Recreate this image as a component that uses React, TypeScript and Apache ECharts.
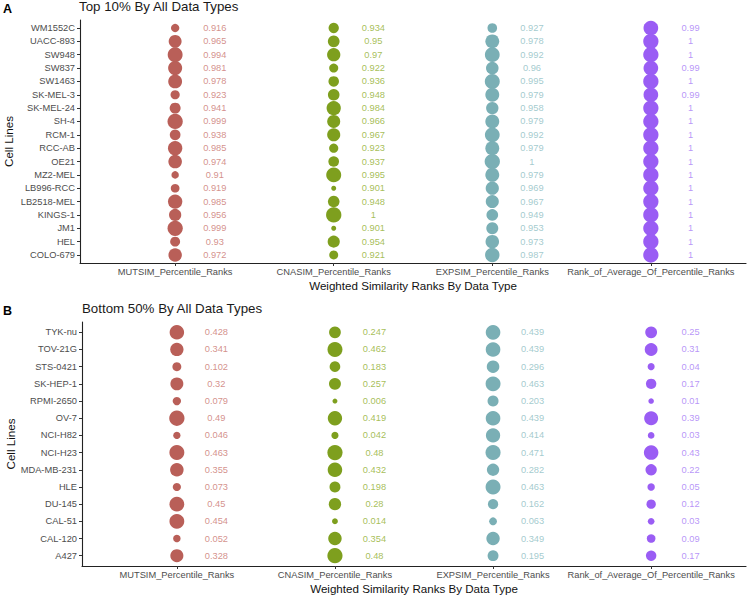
import React, { useEffect, useRef } from "react";
import * as echarts from "echarts";

const TYPES = [
  "MUTSIM_Percentile_Ranks",
  "CNASIM_Percentile_Ranks",
  "EXPSIM_Percentile_Ranks",
  "Rank_of_Average_Of_Percentile_Ranks",
];

// Panel A (listed top to bottom)
const topCells = ["WM1552C", "UACC-893", "SW948", "SW837", "SW1463", "SK-MEL-3", "SK-MEL-24", "SH-4", "RCM-1", "RCC-AB", "OE21", "MZ2-MEL", "LB996-RCC", "LB2518-MEL", "KINGS-1", "JM1", "HEL", "COLO-679"];
const topMut = [0.916, 0.965, 0.994, 0.981, 0.978, 0.923, 0.941, 0.999, 0.938, 0.985, 0.974, 0.91, 0.919, 0.985, 0.956, 0.999, 0.93, 0.972];
const topCna = [0.934, 0.95, 0.97, 0.922, 0.936, 0.948, 0.984, 0.966, 0.967, 0.923, 0.937, 0.995, 0.901, 0.948, 1, 0.901, 0.954, 0.921];
const topExp = [0.927, 0.978, 0.992, 0.96, 0.995, 0.979, 0.958, 0.979, 0.992, 0.979, 1, 0.979, 0.969, 0.967, 0.949, 0.953, 0.973, 0.987];
const topRank = [0.99, 1, 1, 0.99, 1, 0.99, 1, 1, 1, 1, 1, 1, 1, 1, 1, 1, 1, 1];

// Panel B (listed top to bottom)
const botCells = ["TYK-nu", "TOV-21G", "STS-0421", "SK-HEP-1", "RPMI-2650", "OV-7", "NCI-H82", "NCI-H23", "MDA-MB-231", "HLE", "DU-145", "CAL-51", "CAL-120", "A427"];
const botMut = [0.428, 0.341, 0.102, 0.32, 0.079, 0.49, 0.046, 0.463, 0.355, 0.073, 0.45, 0.454, 0.052, 0.328];
const botCna = [0.247, 0.462, 0.183, 0.257, 0.006, 0.419, 0.042, 0.48, 0.432, 0.198, 0.28, 0.014, 0.354, 0.48];
const botExp = [0.439, 0.439, 0.296, 0.463, 0.203, 0.439, 0.414, 0.471, 0.282, 0.463, 0.162, 0.063, 0.349, 0.195];
const botRank = [0.25, 0.31, 0.04, 0.17, 0.01, 0.39, 0.03, 0.43, 0.22, 0.05, 0.12, 0.03, 0.09, 0.17];

const DOT_COLORS = ["#B95F58", "#7E9F1E", "#7AAFB5", "#9A5DF4"];
const TEXT_COLORS = ["#C9746E", "#8FAE2C", "#8CBDC2", "#A67AF6"];

const FONT = "'Liberation Sans', Arial, Helvetica, sans-serif";
const LABEL_SHIFT = 0.25;

function panelSeries(gi: number, cells: string[], cols: number[][]) {
  const all = cols.flat();
  const lo = Math.min(...all);
  const hi = Math.max(...all);
  const size = (v: number) => 5 + 10.3 * Math.pow((v - lo) / (hi - lo), 0.6);
  const series: any[] = [];
  cols.forEach((vals, ci) => {
    series.push({
      type: "scatter",
      xAxisIndex: gi,
      yAxisIndex: gi,
      data: vals.map((v, ri) => [ci, ri, v]),
      symbolSize: (d: number[]) => size(d[2]),
      itemStyle: { color: DOT_COLORS[ci], opacity: 1 },
      silent: true,
      z: 2,
    });
    series.push({
      type: "scatter",
      xAxisIndex: gi,
      yAxisIndex: gi,
      data: vals.map((v, ri) => [ci + LABEL_SHIFT, ri, v]),
      symbolSize: 1,
      itemStyle: { color: "rgba(0,0,0,0)" },
      label: {
        show: true,
        position: "inside",
        formatter: (p: any) => String(p.value[2]),
        color: TEXT_COLORS[ci],
        fontSize: 9.3,
        fontFamily: FONT,
      },
      silent: true,
      z: 3,
    });
  });
  return series;
}

function xAxisFor(gi: number) {
  return {
    type: "value",
    gridIndex: gi,
    min: -0.6,
    max: TYPES.length - 1 + 0.6,
    splitLine: { show: false },
    axisLine: { show: true, onZero: false, lineStyle: { color: "#222", width: 1.1 } },
    axisTick: { show: true, length: 3, customValues: TYPES.map((_, i) => i), lineStyle: { color: "#333" } },
    axisLabel: {
      customValues: TYPES.map((_, i) => i),
      formatter: (v: number) => TYPES[Math.round(v)] ?? "",
      color: "#4d4d4d",
      fontSize: 9.3,
      fontFamily: FONT,
      margin: 4,
    },
    name: "Weighted Similarity Ranks By Data Type",
    nameLocation: "middle",
    nameGap: 16,
    nameMoveOverlap: false,
    nameTextStyle: { color: "#111", fontSize: 11.6, fontFamily: FONT },
  };
}

function yAxisFor(gi: number, cells: string[]) {
  return {
    type: "value",
    gridIndex: gi,
    inverse: true,
    min: -0.6,
    max: cells.length - 1 + 0.6,
    splitLine: { show: false },
    axisLine: { show: true, onZero: false, lineStyle: { color: "#222", width: 1.1 } },
    axisTick: { show: true, length: 3, customValues: cells.map((_, i) => i), lineStyle: { color: "#333" } },
    axisLabel: {
      customValues: cells.map((_, i) => i),
      formatter: (v: number) => cells[Math.round(v)] ?? "",
      color: "#4d4d4d",
      fontSize: 9.3,
      fontFamily: FONT,
      margin: 5,
    },
    name: "Cell Lines",
    nameLocation: "middle",
    nameGap: 66,
    nameMoveOverlap: false,
    nameTextStyle: { color: "#111", fontSize: 11.6, fontFamily: FONT },
  };
}

export default function App() {
  const ref = useRef<HTMLDivElement>(null);
  useEffect(() => {
    document.body.style.margin = "0";
    if (!ref.current) return;
    const chart = echarts.init(ref.current, null, { renderer: "svg" });
    chart.setOption({
      animation: false,
      backgroundColor: "#ffffff",
      title: [
        { text: "A", left: 3, top: 2, padding: 0, textStyle: { fontSize: 12.5, fontWeight: "bold", color: "#000", fontFamily: FONT } },
        { text: "Top 10% By All Data Types", left: 79, top: 0, padding: 0, textStyle: { fontSize: 13.3, fontWeight: "normal", color: "#1a1a1a", fontFamily: FONT } },
        { text: "B", left: 3, top: 304, padding: 0, textStyle: { fontSize: 12.5, fontWeight: "bold", color: "#000", fontFamily: FONT } },
        { text: "Bottom 50% By All Data Types", left: 82, top: 302, padding: 0, textStyle: { fontSize: 13.3, fontWeight: "normal", color: "#1a1a1a", fontFamily: FONT } },
      ],
      grid: [
        { left: 80, right: 3, top: 20, height: 243, outerBoundsMode: "none", containLabel: false },
        { left: 82, right: 3, top: 322, height: 244, outerBoundsMode: "none", containLabel: false },
      ],
      xAxis: [xAxisFor(0), xAxisFor(1)],
      yAxis: [yAxisFor(0, topCells), yAxisFor(1, botCells)],
      series: [
        ...panelSeries(0, topCells, [topMut, topCna, topExp, topRank]),
        ...panelSeries(1, botCells, [botMut, botCna, botExp, botRank]),
      ],
    });
    return () => chart.dispose();
  }, []);
  return <div ref={ref} style={{ width: 749, height: 597 }} />;
}
